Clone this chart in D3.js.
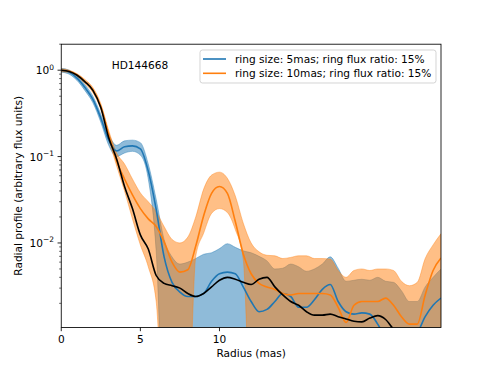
<!DOCTYPE html>
<html>
<head>
<meta charset="utf-8">
<script src="https://cdn.jsdelivr.net/npm/d3@7"></script>
<style>
  body { margin: 0; background: #fff; }
  svg { display: block; }
  text { font-family: "DejaVu Sans", sans-serif; fill: #000; }
</style>
</head>
<body>
<svg id="chart" width="490" height="368"></svg>
<script>
// radius grid (mas)
const radius = [0,0.5,1,1.5,2,2.5,3,3.5,4,4.5,5,5.5,6,6.5,7,7.5,8,8.5,9,9.5,10,10.5,11,11.5,12,
  12.5,13,13.5,14,14.5,15,15.5,16,16.5,17,17.5,18,18.5,19,19.5,20,20.5,21,21.5,22,22.5,23,23.5,24];

// measured profile (black)
const profile = [1.0,0.965,0.874,0.734,0.584,0.37,0.165,0.094,0.045,0.025,0.0124,0.0085,0.0042,0.0034,
  0.0032,0.0030,0.0026,0.0024,0.0026,0.0031,0.0037,0.0040,0.0038,0.0035,0.0033,0.0038,0.0040,0.0031,
  0.0025,0.0021,0.0019,0.0016,0.00146,0.00146,0.0015,0.0014,0.00132,0.00124,0.00122,0.00135,0.00144,
  0.0013,0.0010,0.0008,0.0007,0.0006,0.0006,0.0005,0.0005];

// ring size 5 mas
const ring5 = [1.0,0.95,0.81,0.63,0.46,0.28,0.155,0.116,0.13,0.133,0.123,0.068,0.0244,0.0069,0.0035,
  0.0027,0.0024,0.0024,0.0026,0.0036,0.0044,0.0046,0.0044,0.0031,0.0021,0.0016,0.0017,0.0021,0.0026,
  0.0024,0.0018,0.0018,0.0022,0.0029,0.0033,0.0021,0.0016,0.0015,0.00155,0.0015,0.00115,0.0008,0.0007,
  0.0007,0.0007,0.0009,0.0014,0.0019,0.0023];
const ring5Hi = [1.05,1.0,0.86,0.68,0.5,0.31,0.18,0.135,0.152,0.155,0.145,0.082,0.032,0.011,0.0069,
  0.0057,0.006,0.0066,0.0074,0.0077,0.0086,0.0098,0.0089,0.0081,0.0077,0.0070,0.0062,0.0050,0.0051,
  0.0057,0.0053,0.0047,0.0050,0.0057,0.0069,0.0051,0.0036,0.0037,0.0038,0.0037,0.0040,0.0036,0.0035,
  0.0028,0.0021,0.0021,0.0031,0.0040,0.0050];
const ring5Lo = [0.95,0.9,0.76,0.58,0.42,0.25,0.135,0.1,0.11,0.115,0.104,0.055,0.008,0.0001,0.0001,
  0.0001,0.0001,0.0001,0.0001,0.0001,0.0001,0.0001,0.0001,0.0001,0.0001,0.0001,0.0001,0.0001,0.0001,
  0.0001,0.0001,0.0001,0.0001,0.0001,0.0001,0.0001,0.0001,0.0001,0.0001,0.0001,0.0001,0.0001,0.0001,
  0.0001,0.0001,0.0001,0.0001,0.0001,0.0001];

// ring size 10 mas
const ring10 = [1.0,0.97,0.88,0.74,0.59,0.38,0.18,0.089,0.055,0.036,0.025,0.019,0.0155,0.0103,0.006,
  0.0046,0.0049,0.0092,0.0207,0.0375,0.045,0.0375,0.0177,0.0075,0.0044,0.0034,0.0031,0.0029,0.0026,
  0.0025,0.0026,0.0026,0.0026,0.0026,0.0025,0.0018,0.0012,0.0019,0.0021,0.0021,0.0021,0.0023,0.0019,
  0.0014,0.00115,0.00115,0.0025,0.0048,0.0067];
const ring10Hi = [1.04,1.0,0.91,0.78,0.63,0.41,0.2,0.11,0.082,0.055,0.038,0.030,0.023,0.0155,0.011,
  0.0100,0.0117,0.020,0.042,0.061,0.066,0.056,0.035,0.017,0.0100,0.0079,0.0072,0.0071,0.0066,0.0068,
  0.0071,0.0071,0.0066,0.0066,0.0065,0.0048,0.0040,0.0048,0.0050,0.0048,0.0050,0.0050,0.0048,0.0036,
  0.0032,0.0035,0.0066,0.0095,0.0128];
const ring10Lo = [0.96,0.94,0.85,0.70,0.55,0.35,0.16,0.078,0.04,0.019,0.0095,0.0053,0.0021,0.0001,
  0.0001,0.0001,0.0001,0.007,0.013,0.022,0.025,0.0225,0.0143,0.0065,0.0001,0.0001,0.0001,0.0001,0.0001,
  0.0001,0.0001,0.0001,0.0001,0.0001,0.0001,0.0001,0.0001,0.0001,0.0001,0.0001,0.0001,0.0001,0.0001,
  0.0001,0.0001,0.0001,0.0001,0.0001,0.0001];

const xTicks = [0, 5, 10];
const yTicks = [1, 0.1, 0.01];
const yTickExp = ["0", "\u22121", "\u22122"];
const legendLabels = ["ring size: 5mas; ring flux ratio: 15%", "ring size: 10mas; ring flux ratio: 15%"];
const starName = "HD144668";

const width = 490, height = 368;
const margin = {left: 61.25, right: 49, top: 44.2, bottom: 40.5};
const blue = "#1f77b4", orange = "#ff7f0e";

const svg = d3.select("#chart");
const x = d3.scaleLinear().domain([0, 24]).range([margin.left, width - margin.right]);
const y = d3.scaleLog().domain([0.00105, 2]).range([height - margin.bottom, margin.top]);

svg.append("defs").append("clipPath").attr("id", "plotclip")
  .append("rect")
  .attr("x", x(0)).attr("y", y(2))
  .attr("width", x(24) - x(0)).attr("height", y(0.00105) - y(2));

const plot = svg.append("g").attr("clip-path", "url(#plotclip)");

const band = (hi, lo) => d3.area()
  .x((d, i) => x(radius[i]))
  .y0((d, i) => y(lo[i]))
  .y1((d, i) => y(hi[i]))
  .curve(d3.curveMonotoneX)(radius);

const line = (vals) => d3.line()
  .x((d, i) => x(radius[i]))
  .y((d) => y(d))
  .curve(d3.curveMonotoneX)(vals);

plot.append("path").attr("d", band(ring5Hi, ring5Lo))
  .attr("fill", blue).attr("fill-opacity", 0.5)
  .attr("stroke", blue).attr("stroke-opacity", 0.5).attr("stroke-width", 0.8);
plot.append("path").attr("d", band(ring10Hi, ring10Lo))
  .attr("fill", orange).attr("fill-opacity", 0.5)
  .attr("stroke", orange).attr("stroke-opacity", 0.5).attr("stroke-width", 0.8);

plot.append("path").attr("d", line(ring5))
  .attr("fill", "none").attr("stroke", blue).attr("stroke-width", 1.6);
plot.append("path").attr("d", line(ring10))
  .attr("fill", "none").attr("stroke", orange).attr("stroke-width", 1.6);
plot.append("path").attr("d", line(profile))
  .attr("fill", "none").attr("stroke", "#000").attr("stroke-width", 1.6);

// axes frame
svg.append("rect")
  .attr("x", x(0)).attr("y", y(2))
  .attr("width", x(24) - x(0)).attr("height", y(0.00105) - y(2))
  .attr("fill", "none").attr("stroke", "#000").attr("stroke-width", 0.85);

// x ticks
const xAxis = svg.append("g");
xTicks.forEach(t => {
  xAxis.append("line")
    .attr("x1", x(t)).attr("x2", x(t))
    .attr("y1", y(0.00105)).attr("y2", y(0.00105) + 3.7)
    .attr("stroke", "#000").attr("stroke-width", 0.85);
  xAxis.append("text")
    .attr("x", x(t)).attr("y", 343)
    .attr("text-anchor", "middle").attr("font-size", 10.6)
    .text(t);
});

// y ticks (log)
const yAxis = svg.append("g");
const minor = [];
[0.001, 0.01, 0.1, 1].forEach(dec => {
  for (let k = 2; k <= 9; k++) {
    const v = dec * k;
    if (v >= 0.00105 && v <= 2) minor.push(v);
  }
});
minor.forEach(v => {
  yAxis.append("line")
    .attr("x1", x(0)).attr("x2", x(0) - 2.1)
    .attr("y1", y(v)).attr("y2", y(v))
    .attr("stroke", "#000").attr("stroke-width", 0.6);
});
yTicks.forEach((t, i) => {
  yAxis.append("line")
    .attr("x1", x(0)).attr("x2", x(0) - 3.7)
    .attr("y1", y(t)).attr("y2", y(t))
    .attr("stroke", "#000").attr("stroke-width", 0.85);
  const lab = yAxis.append("text")
    .attr("x", x(0) - 7.2).attr("y", y(t) + 4)
    .attr("text-anchor", "end").attr("font-size", 10.6);
  lab.append("tspan").text("10");
  lab.append("tspan").attr("dy", -4.5).attr("font-size", 7.5).text(yTickExp[i]);
});

// axis labels
svg.append("text")
  .attr("x", (x(0) + x(24)) / 2).attr("y", 357)
  .attr("text-anchor", "middle").attr("font-size", 10.6)
  .text("Radius (mas)");
svg.append("text")
  .attr("transform", `translate(22,${(y(2) + y(0.00105)) / 2}) rotate(-90)`)
  .attr("text-anchor", "middle").attr("font-size", 10.6)
  .text("Radial profile (arbitrary flux units)");

// star name
svg.append("text")
  .attr("x", 140).attr("y", 68.5)
  .attr("text-anchor", "middle").attr("font-size", 10.6)
  .text(starName);

// legend
const leg = svg.append("g");
leg.append("rect")
  .attr("x", 200).attr("y", 50).attr("width", 236).attr("height", 33)
  .attr("rx", 2.5)
  .attr("fill", "#fff").attr("fill-opacity", 0.8)
  .attr("stroke", "#cccccc").attr("stroke-width", 0.85);
[blue, orange].forEach((c, i) => {
  const ly = 59 + i * 14.3;
  leg.append("line")
    .attr("x1", 203).attr("x2", 226).attr("y1", ly).attr("y2", ly)
    .attr("stroke", c).attr("stroke-width", 1.6);
  leg.append("text")
    .attr("x", 235).attr("y", ly + 3.8)
    .attr("font-size", 10.6)
    .text(legendLabels[i]);
});
</script>
</body>
</html>
